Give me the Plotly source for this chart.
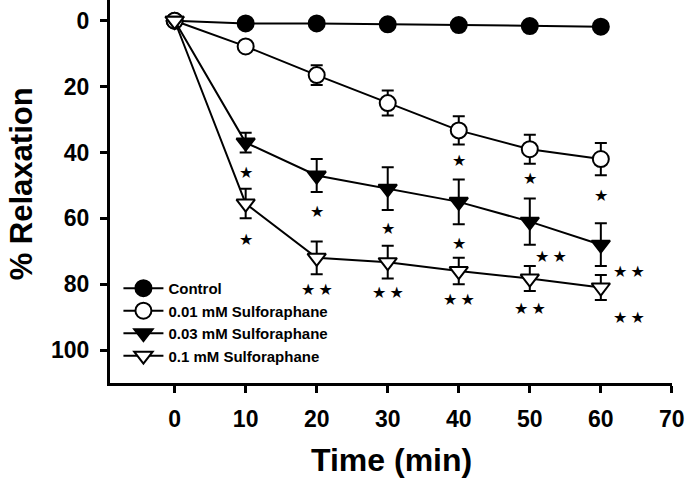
import plotly.graph_objects as go

time = [0, 10, 20, 30, 40, 50, 60]
control = [0, 0.8, 0.8, 1.1, 1.3, 1.6, 1.8]
sf001 = [0, 7.8, 16.5, 25, 33.3, 39, 42]
sf001_err = [0, 1.5, 3, 3.8, 4.3, 4.4, 4.9]
sf003 = [0, 37, 47, 51, 55, 61, 68]
sf003_err = [0, 3, 5, 6.5, 6.8, 7, 6.5]
sf01 = [0, 55.5, 72, 73.3, 76, 78.3, 81]
sf01_err = [0, 4.5, 5, 5, 4, 3.8, 3.8]

# significance marks
S1 = "★"
S2 = "★\u2009★"
sig_x = [40, 50, 60, 10, 20, 30, 40, 53, 64, 10, 20, 30, 40, 50, 64]
sig_y = [42.5, 48, 53, 46, 58, 63, 67.5, 71.5, 76, 66.5, 81.6, 82.5, 84.5, 87.3, 90]
sig_t = [S1, S1, S1, S1, S1, S1, S1, S2, S2, S1, S2, S2, S2, S2, S2]

line = dict(color="black", width=2)
err = lambda e: dict(type="data", array=e, visible=True, color="black", thickness=2, width=6)

fig = go.Figure()
fig.add_trace(go.Scatter(x=time, y=control, name="Control", mode="lines+markers", line=line,
                         marker=dict(symbol="circle", size=16, color="black", line=dict(color="black", width=2))))
fig.add_trace(go.Scatter(x=time, y=sf001, name="0.01 mM Sulforaphane", mode="lines+markers", line=line,
                         error_y=err(sf001_err),
                         marker=dict(symbol="circle", size=16, color="white", line=dict(color="black", width=2))))
fig.add_trace(go.Scatter(x=time, y=sf003, name="0.03 mM Sulforaphane", mode="lines+markers", line=line,
                         error_y=err(sf003_err),
                         marker=dict(symbol="triangle-down", size=16, color="black", line=dict(color="black", width=2))))
fig.add_trace(go.Scatter(x=time, y=sf01, name="0.1 mM Sulforaphane", mode="lines+markers", line=line,
                         error_y=err(sf01_err),
                         marker=dict(symbol="triangle-down", size=16, color="white", line=dict(color="black", width=2))))

for x, y, t in zip(sig_x, sig_y, sig_t):
    fig.add_annotation(x=x, y=y, text=t, showarrow=False,
                       font=dict(family="DejaVu Sans", size=16, color="#000000"))

# axis titles
fig.add_annotation(xref="paper", yref="paper", x=-0.1575, y=0.52, text="% Relaxation",
                   textangle=-90, showarrow=False, xanchor="center", yanchor="middle",
                   font=dict(size=31, weight="bold", family="Liberation Sans, Arial"))
fig.add_annotation(xref="paper", yref="paper", x=0.5, y=-0.201, text="Time (min)",
                   showarrow=False, xanchor="center", yanchor="middle",
                   font=dict(size=32, weight="bold", family="Liberation Sans, Arial"))

fig.update_layout(
    width=685, height=479,
    margin=dict(l=110, r=10, t=0, b=96),
    plot_bgcolor="white", paper_bgcolor="white",
    font=dict(family="Liberation Sans, Arial", color="black"),
    showlegend=True,
    legend=dict(x=0.015, y=0.29, xanchor="left", yanchor="top", bgcolor="rgba(0,0,0,0)",
                font=dict(size=15, family="Liberation Sans, Arial", weight="bold"),
                tracegroupgap=0, itemwidth=40),
    xaxis=dict(range=[-9.1, 70.02], tickvals=[0, 10, 20, 30, 40, 50, 60, 70],
               showline=True, linecolor="black", linewidth=3, ticks="outside", ticklen=7,
               tickwidth=3, tickcolor="black", showgrid=False, zeroline=False,
               ticklabelstandoff=6, ticklabeloverflow="allow",
               tickfont=dict(size=23, weight="bold")),
    yaxis=dict(range=[110, -6.3], tickvals=[0, 20, 40, 60, 80, 100],
               showline=True, linecolor="black", linewidth=3, ticks="outside", ticklen=7,
               tickwidth=3, tickcolor="black", showgrid=False, zeroline=False,
               ticklabelstandoff=6,
               tickfont=dict(size=23, weight="bold")),
)

fig.write_html("out.html")
